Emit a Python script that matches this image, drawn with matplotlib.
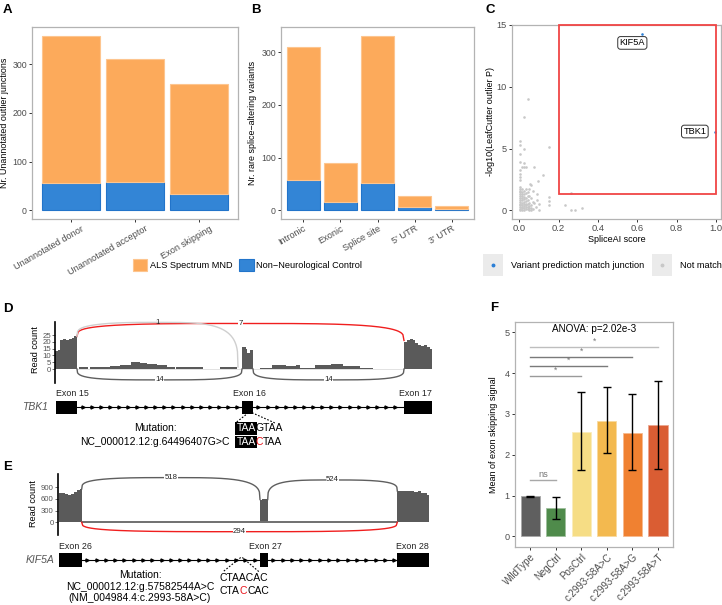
import numpy as np
import matplotlib
matplotlib.use('Agg')
import matplotlib.pyplot as plt
import matplotlib.colors as mcolors
from matplotlib.patches import Rectangle, Patch
from matplotlib.lines import Line2D
from matplotlib.transforms import ScaledTranslation

plt.rcParams['font.family'] = ['Liberation Sans', 'DejaVu Sans']

# ---------------- data ----------------
# A: unannotated outlier junctions
junction_types = ['Unannotated donor', 'Unannotated acceptor', 'Exon skipping']
junction_ctrl = [56, 57, 34]
junction_als = [302, 253, 224]

# B: rare splice-altering variants
variant_regions = ['Intronic', 'Exonic', 'Splice site', "5' UTR", "3' UTR"]
variant_ctrl = [58, 15, 51, 6, 3]
variant_als = [252, 74, 280, 21, 5]

group_labels = ['ALS Spectrum MND', 'Non\u2212Neurological Control']

# C: SpliceAI vs LeafCutter
match_genes = ['KIF5A', 'TBK1']
match_spliceai = [0.625, 0.998]
match_logp = [14.3, 6.38]
match_label_x = [0.575, 0.893]
match_label_y = [13.55, 6.38]
spliceai_cut = 0.2
logp_cut = 1.3
logp_top = 15
nomatch_points = [
    (0.046, 9.0), (0.024, 7.57), (0.004, 5.6), (0.004, 5.3), (0.004, 4.6),
    (0.024, 4.93), (0.153, 5.15), (0.004, 3.9), (0.026, 3.85), (0.012, 3.52),
    (0.022, 3.52), (0.035, 3.52), (0.075, 3.52), (0.004, 3.25), (0.004, 2.98),
    (0.122, 2.9), (0.004, 2.72), (0.004, 2.45), (0.097, 2.38), (0.054, 2.1),
    (0.06, 2.05), (0.004, 1.91), (0.092, 1.35), (0.153, 1.05), (0.153, 0.78),
    (0.153, 0.42), (0.232, 0.42), (0.262, 1.37), (0.262, 0.05), (0.283, 0.03),
    (0.318, 0.15), (0.1, 0.05), (0.1, 0.5), (0.09, 0.85), (0.075, 0.6),
    (0.085, 0.3),
    (0.003, 1.75), (0.003, 1.6), (0.003, 1.45), (0.003, 1.3), (0.003, 1.15),
    (0.003, 1.0), (0.003, 0.85), (0.003, 0.7), (0.003, 0.55), (0.003, 0.4),
    (0.003, 0.25), (0.003, 0.1), (0.003, 0.0),
    (0.012, 1.7), (0.012, 1.5), (0.012, 1.35), (0.012, 1.2), (0.012, 1.0),
    (0.012, 0.8), (0.012, 0.6), (0.012, 0.45), (0.012, 0.3), (0.012, 0.15),
    (0.012, 0.0),
    (0.022, 1.6), (0.022, 1.3), (0.022, 1.1), (0.022, 0.9), (0.022, 0.7),
    (0.022, 0.5), (0.022, 0.35), (0.022, 0.2), (0.022, 0.05),
    (0.032, 1.75), (0.032, 1.4), (0.032, 1.0), (0.032, 0.75), (0.032, 0.55),
    (0.032, 0.4), (0.032, 0.25), (0.032, 0.1),
    (0.042, 1.5), (0.042, 1.15), (0.042, 0.8), (0.042, 0.5), (0.042, 0.3),
    (0.042, 0.1),
    (0.052, 1.7), (0.052, 1.2), (0.052, 0.6), (0.052, 0.35), (0.052, 0.15),
    (0.052, 0.0),
    (0.062, 1.0), (0.062, 0.45), (0.062, 0.2), (0.062, 0.05),
    (0.07, 1.55), (0.07, 0.7), (0.07, 0.1),
]

# D: TBK1 sashimi (positions in track units)
tbk1_exons = [(56, 77), (242, 253), (404, 432)]
tbk1_exon_names = ['Exon 15', 'Exon 16', 'Exon 17']
tbk1_cov = [
    (55.5, 58, 13), (58, 60, 14), (60, 63, 21), (63, 66, 22), (66, 69, 21),
    (69, 72, 22), (72, 74, 23), (74, 77, 24),
    (79, 88, 1.5), (90, 110, 1.5), (110, 120, 2.5), (120, 131.5, 3),
    (131.5, 140, 5), (140, 147, 4.7), (147, 157, 4), (157, 167, 3),
    (167, 175, 1.5), (176.5, 203, 1.5), (220, 237, 1.5),
    (242, 246, 16), (246, 247.5, 15), (247.5, 250, 12), (250, 253, 14),
    (260, 272.5, 1), (272.5, 286.5, 3), (286.5, 296, 2), (296, 300.5, 3),
    (300.5, 315, 1), (315, 331.5, 3), (331.5, 343, 3.5), (343, 347, 2),
    (347, 360, 2.5), (360, 373, 1),
    (404, 407, 20), (407, 410, 21), (410, 413, 22), (413, 415, 21),
    (415, 418, 19), (418, 421, 18), (421, 424, 17), (424, 427, 17.5),
    (427, 430, 16), (430, 432.5, 15),
]
tbk1_jx_start = [77, 77, 77, 253]
tbk1_jx_end = [404, 238, 242, 404]
tbk1_jx_count = [7, 1, 14, 14]
tbk1_jx_y0 = [24, 24, 0, 0]
tbk1_jx_y1 = [21, 1.5, 0, 0]
tbk1_jx_peak = [33.5, 34.3, -8, -8]
tbk1_mut_pos = 250

# E: KIF5A sashimi
kif5a_exons = [(59, 81.7), (260, 267.7), (397.3, 429)]
kif5a_exon_names = ['Exon 26', 'Exon 27', 'Exon 28']
kif5a_cov = [
    (59, 62, 750), (62, 65, 745), (65, 68, 710), (68, 71, 690), (71, 74, 715),
    (74, 77, 770), (77, 80, 820), (80, 81.7, 850),
    (260, 261.5, 560), (261.5, 266.5, 585), (266.5, 267.7, 560),
    (397.3, 400, 810), (400, 405, 790), (405, 410, 800), (410, 414, 790),
    (414, 418, 780), (418, 421, 790), (421, 424, 760), (424, 427, 740),
    (427, 429, 700),
]
kif5a_jx_start = [81.7, 267.7, 81.7]
kif5a_jx_end = [260, 397.3, 397.3]
kif5a_jx_count = [518, 524, 294]
kif5a_jx_y0 = [850, 580, 0]
kif5a_jx_y1 = [580, 800, 0]
kif5a_jx_peak = [1140, 1080, -240]
kif5a_mut_pos = 241.5

# F: minigene assay
f_groups = ['WildType', 'NegCtrl', 'PosCtrl', 'c.2993-58A>C', 'c.2993-58A>G', 'c.2993-58A>T']
f_mean = [0.98, 0.69, 2.56, 2.83, 2.53, 2.72]
f_low = [0.97, 0.44, 1.62, 2.05, 1.62, 1.65]
f_high = [1.00, 0.97, 3.53, 3.65, 3.48, 3.82]
f_colors = ['#5F5F5F', '#4F8B4B', '#F6DD85', '#F3B94F', '#F08131', '#DA5D33']
sig_pairs = [(0, 1), (0, 2), (0, 3), (0, 4), (0, 5)]
sig_y = [1.38, 3.93, 4.17, 4.40, 4.65]
sig_text = ['ns', '*', '*', '*', '*']
sig_colors = ['#A8A8A8', '#9A9A9A', '#7A7A7A', '#7A7A7A', '#BEBEBE']

# ---------------- style ----------------
orange, orange_edge = '#FCAA5B', '#FDC58F'
blue, blue_edge = '#3385D6', '#2274CA'
grey_txt = '#4D4D4D'
border = '#B3B3B3'

W, H = 722, 605
fig = plt.figure(figsize=(W / 100, H / 100), dpi=100)


def px_axes(x0, y0, x1, y1):
    return fig.add_axes([x0 / W, 1 - y1 / H, (x1 - x0) / W, (y1 - y0) / H])


def lighten(c, f=0.45):
    r, g, b = mcolors.to_rgb(c)
    return (r + (1 - r) * f, g + (1 - g) * f, b + (1 - b) * f)


def gg_axes(ax, xsize=6.6, ysize=6.3):
    for sp in ax.spines.values():
        sp.set_color(border)
        sp.set_linewidth(0.9)
    ax.tick_params(length=2.2, width=0.7, color='#333333', labelcolor=grey_txt, pad=1.5)
    ax.tick_params(axis='x', labelsize=xsize)
    ax.tick_params(axis='y', labelsize=ysize)


def stacked(ax, labels, ctrl, als, ymax):
    x = np.arange(1, len(labels) + 1)
    ax.bar(x, ctrl, width=0.9, color=blue, edgecolor=blue_edge, lw=0.8)
    ax.bar(x, als, bottom=ctrl, width=0.9, color=orange, edgecolor=orange_edge, lw=0.8)
    ax.set_xlim(0.4, len(labels) + 0.6)
    ax.set_ylim(-0.05 * ymax, 1.05 * ymax)
    ax.set_yticks([0, 100, 200, 300])
    ax.set_xticks(x, labels, rotation=30, ha='right', rotation_mode='anchor')
    gg_axes(ax)


def steps(segs):
    xs, ys = [], []
    for s, e, h in segs:
        xs += [s, s, e, e]
        ys += [0, h, h, 0]
    return np.array(xs), np.array(ys)


def junction_curve(x0, x1, y0, y1, peak, n=3.5):
    t = np.linspace(0, 1, 300)
    s = (1 - np.abs(2 * t - 1) ** n) ** (1 / n)
    base = y0 + (y1 - y0) * t
    return x0 + (x1 - x0) * t, base + (peak - base) * s


def colored_seq(ax, x, y, parts, fontsize=7.5, box_first=False):
    t = None
    for i, (txt, col) in enumerate(parts):
        kw = dict(fontsize=fontsize, color=col, va='center', ha='left')
        if i == 0 and box_first:
            kw['bbox'] = dict(boxstyle='square,pad=0.12', fc='black', ec='none')
        if t is None:
            t = ax.text(x, y, txt, **kw)
        else:
            t = ax.annotate(txt, xy=(1, 0.5), xycoords=t, **kw)


def coverage_panel(ax, segs, starts, ends, counts, y0s, y1s, peaks, colors, xlim, ylim, yticks):
    xs, ys = steps(segs)
    ax.fill_between(xs, 0, ys, color='#5A5A5A', lw=0)
    for s, e, c, a, b, p, col in zip(starts, ends, counts, y0s, y1s, peaks, colors):
        cx, cy = junction_curve(s, e, a, b, p)
        ax.plot(cx, cy, color=col, lw=1.0, clip_on=False, zorder=3)
        ax.text((s + e) / 2, p, str(c), ha='center', va='center', fontsize=5.6,
                color='#222222', zorder=4,
                bbox=dict(boxstyle='square,pad=0.05', fc='white', ec='none') if c != 1 else None)
    ax.set_xlim(*xlim)
    ax.set_ylim(*ylim)
    ax.set_yticks(yticks)
    ax.set_xticks([])
    for k in ['top', 'right', 'bottom']:
        ax.spines[k].set_visible(False)
    ax.spines['left'].set_linewidth(1.2)
    ax.tick_params(axis='y', length=2, width=0.6, color='#555555', labelcolor='#555555',
                   labelsize=5.6, pad=1)
    ax.patch.set_alpha(0)


def gene_track(ax, exons, names, gene, yc, label_y, step, xlim, ylim):
    ax.set_xlim(*xlim)
    ax.set_ylim(*ylim)
    ax.axis('off')
    ax.plot([exons[0][1], exons[-1][0]], [yc, yc], color='black', lw=0.8)
    for (s0, e0), (s1, e1) in zip(exons[:-1], exons[1:]):
        mx = np.arange(e0 + 5.5, s1 - 3, step)
        ax.plot(mx, np.full_like(mx, yc), ls='none', marker='>', ms=2.2, color='black')
    for (s, e), nm, al in zip(exons, names, ['left', 'center', 'right']):
        ax.add_patch(Rectangle((s, yc - 6.7), e - s, 13.4, fc='black', ec='none', zorder=3))
        xpos = {'left': s, 'center': (s + e) / 2 + 2, 'right': e}[al]
        ax.text(xpos, label_y, nm, ha=al, va='center', fontsize=6.4, color='#222222')
    ax.text(xlim[0] - 32.5, yc, gene, ha='left', va='center', fontsize=7.5,
            style='italic', color='#555555')


# ---------------- A ----------------
axa = px_axes(32, 27, 238, 219)
stacked(axa, junction_types, junction_ctrl, junction_als, 358)
axa.set_ylabel('Nr. Unannotated outlier junctions', fontsize=6.4)
axa.yaxis.set_label_coords(-0.112, 0.5)
for lab in axa.get_xticklabels():
    lab.set_transform(lab.get_transform() + ScaledTranslation(0.10, 0, fig.dpi_scale_trans))

# ---------------- B ----------------
axb = px_axes(281, 27, 474, 219)
stacked(axb, variant_regions, variant_ctrl, variant_als, 331)
axb.set_ylabel('Nr. rare splice\u2212altering variants', fontsize=6.4)
axb.yaxis.set_label_coords(-0.124, 0.5)

fig.legend(handles=[Patch(fc=orange, ec=orange_edge, lw=0.8), Patch(fc=blue, ec=blue_edge, lw=0.8)],
           labels=group_labels, loc='center', bbox_to_anchor=(247.5 / W, 1 - 265 / H),
           ncol=2, frameon=False, fontsize=6.6, handlelength=1.6, handleheight=1.6,
           handletextpad=0.3, columnspacing=0.7, borderpad=0)

# ---------------- C ----------------
axc = px_axes(512, 25, 721, 219)
nm = np.array(nomatch_points)
axc.scatter(nm[:, 0], nm[:, 1], s=3.5, color='#C8C8C8', lw=0, zorder=2)
axc.scatter(match_spliceai, match_logp, s=3.5, color='#2C7FD6', lw=0, zorder=3)
axc.add_patch(Rectangle((spliceai_cut, logp_cut), 1 - spliceai_cut, logp_top - logp_cut,
                        fill=False, ec='#F04545', lw=1.3, clip_on=False, zorder=4))
for g, lx, ly in zip(match_genes, match_label_x, match_label_y):
    axc.text(lx, ly, g, ha='center', va='center', fontsize=6.6, zorder=5,
             bbox=dict(boxstyle='round,pad=0.2,rounding_size=0.3', fc='white', ec='#333333', lw=0.7))
axc.set_xlim(-0.037, 1.026)
axc.set_ylim(-0.7, logp_top)
axc.set_xticks([0, 0.2, 0.4, 0.6, 0.8, 1.0], ['0.0', '0.2', '0.4', '0.6', '0.8', '1.0'])
axc.set_yticks([0, 5, 10, 15])
gg_axes(axc, xsize=6.8, ysize=6.6)
axc.set_xlabel('SpliceAI score', fontsize=6.5)
axc.xaxis.set_label_coords(0.5, -0.085)
axc.set_ylabel('-log10(LeafCutter outlier P)', fontsize=6.5)
axc.yaxis.set_label_coords(-0.081, 0.5)

for kx, col, txt in [(483, '#2C7FD6', 'Variant prediction match junction'),
                     (652, '#C8C8C8', 'Not match')]:
    fig.add_artist(Rectangle((kx / W, 1 - 276 / H), 20 / W, 22 / H, fc='#EBEBEB', ec='none',
                             transform=fig.transFigure))
    fig.add_artist(Line2D([(kx + 10) / W], [1 - 265 / H], marker='o', ms=1.8, color=col,
                          ls='none', transform=fig.transFigure))
    fig.text((kx + 28) / W, 1 - 265 / H, txt, ha='left', va='center', fontsize=6.6)

# ---------------- D ----------------
axd = px_axes(55, 321.7, 433, 383.3)
axd.plot([77, 404], [0, 0], color='#DDDDDD', lw=0.6)
coverage_panel(axd, tbk1_cov, tbk1_jx_start, tbk1_jx_end, tbk1_jx_count, tbk1_jx_y0, tbk1_jx_y1,
               tbk1_jx_peak, ['#F01E1E', '#CFCFCF', '#5E5E5E', '#5E5E5E'],
               (55, 433), (-10.5, 34.8), [0, 5, 10, 15, 20, 25])
axd.set_ylabel('Read count', fontsize=6.6)
axd.yaxis.set_label_coords(-0.041, 0.54)

axdt = px_axes(55, 388, 433, 452)
gene_track(axdt, tbk1_exons, tbk1_exon_names, 'TBK1', 407.3, 394, 9.1, (55, 433), (452, 388))
axdt.plot([tbk1_mut_pos - 1.5, 236], [412.7, 422.5], ls=(0, (1.5, 1.5)), color='black', lw=0.8)
axdt.plot([tbk1_mut_pos + 2, 275], [412.7, 423], ls=(0, (1.5, 1.5)), color='black', lw=0.8)
axdt.text(155, 428.3, 'Mutation:', ha='center', va='center', fontsize=7.5)
axdt.text(155, 442.3, 'NC_000012.12:g.64496407G>C', ha='center', va='center', fontsize=7.5)
colored_seq(axdt, 236.5, 428.3, [('TAA', 'white'), ('GTAA', 'black')], box_first=True)
colored_seq(axdt, 236.5, 441.8, [('TAA', 'white'), ('C', '#E8141B'), ('TAA', 'black')], box_first=True)

# ---------------- E ----------------
axe = px_axes(58, 474, 429, 535)
axe.plot([81.7, 397.3], [0, 0], color='#707070', lw=1.4)
coverage_panel(axe, kif5a_cov, kif5a_jx_start, kif5a_jx_end, kif5a_jx_count, kif5a_jx_y0,
               kif5a_jx_y1, kif5a_jx_peak, ['#5E5E5E', '#5E5E5E', '#F01E1E'],
               (58, 429), (-324, 1232), [0, 300, 600, 900])
axe.set_ylabel('Read count', fontsize=6.6)
axe.yaxis.set_label_coords(-0.054, 0.52)

axet = px_axes(58, 540, 429, 604)
gene_track(axet, kif5a_exons, kif5a_exon_names, 'KIF5A', 560, 546.7, 9.3, (58, 429), (604, 540))
axet.plot([kif5a_mut_pos - 0.8, 222.7], [557.5, 572], ls=(0, (1.5, 1.5)), color='black', lw=0.8)
axet.plot([kif5a_mut_pos + 0.8, 259.3], [557.5, 572], ls=(0, (1.5, 1.5)), color='black', lw=0.8)
axet.text(140, 575, 'Mutation:', ha='center', va='center', fontsize=7.5)
axet.text(140, 586.7, 'NC_000012.12:g.57582544A>C', ha='center', va='center', fontsize=7.5)
axet.text(140, 598.3, '(NM_004984.4:c.2993-58A>C)', ha='center', va='center', fontsize=7.5)
colored_seq(axet, 220, 578.3, [('CTAACAC', 'black')])
colored_seq(axet, 220, 590.7, [('CTA', 'black'), ('C', '#E8141B'), ('CAC', 'black')])

# ---------------- F ----------------
axf = px_axes(515, 321.7, 673.3, 546.7)
xf = np.arange(1, len(f_groups) + 1)
mean = np.array(f_mean)
axf.bar(xf, mean, width=0.75, color=f_colors, edgecolor=[lighten(c) for c in f_colors], lw=0.6)
axf.errorbar(xf, mean, yerr=[mean - np.array(f_low), np.array(f_high) - mean], fmt='none',
             ecolor='black', elinewidth=1, capsize=2.6, capthick=1)
for (a, b), yv, txt, col in zip(sig_pairs, sig_y, sig_text, sig_colors):
    axf.plot([xf[a], xf[b]], [yv, yv], color=col, lw=1.0)
    axf.text((xf[a] + xf[b]) / 2, yv + 0.03, txt, ha='center', va='bottom',
             fontsize=6.6 if txt == 'ns' else 6.2, color='#777777')
axf.text(3.5, 5.08, 'ANOVA: p=2.02e-3', ha='center', va='center', fontsize=7.1)
axf.set_xlim(0.4, len(f_groups) + 0.6)
axf.set_ylim(-0.25, 5.26)
axf.set_yticks([0, 1, 2, 3, 4, 5])
axf.set_xticks(xf, f_groups, rotation=45, ha='right', rotation_mode='anchor')
gg_axes(axf, xsize=7.0, ysize=6.6)
axf.set_ylabel('Mean of exon skipping signal', fontsize=6.5)
axf.yaxis.set_label_coords(-0.11, 0.5)

# ---------------- panel letters ----------------
for txt, x, y in [('A', 3, 13.3), ('B', 251, 13.3), ('C', 486, 13.3),
                  ('D', 3, 311.7), ('E', 3, 470), ('F', 490, 311)]:
    fig.text(x / W, 1 - y / H, txt, fontsize=9.5, fontweight='bold', va='baseline', ha='left')

fig.savefig('out.png', dpi=100)
